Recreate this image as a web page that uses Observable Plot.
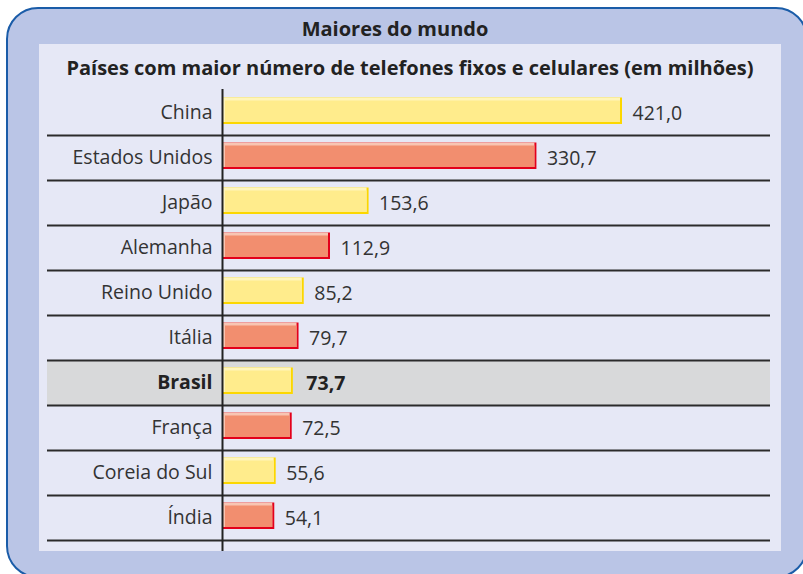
<!DOCTYPE html>
<html>
<head>
<meta charset="utf-8">
<script src="https://cdn.jsdelivr.net/npm/d3@7"></script>
<script src="https://cdn.jsdelivr.net/npm/@observablehq/plot@0.6"></script>
<style>
  html, body { margin: 0; padding: 0; background: #ffffff; width: 803px; height: 574px; overflow: hidden; }
  #outer {
    position: absolute; left: 6px; top: 7px; width: 798px; height: 567px;
    background: #bac5e6; border: 2px solid #1a5ca8; border-radius: 32px;
  }
  #title {
    position: absolute; left: 0; top: 15px; width: 790px; text-align: center;
    font: bold 20px "Open Sans", sans-serif; color: #222;
  }
  #panel {
    position: absolute; left: 39px; top: 44px; width: 742px; height: 507px;
    background: #e6e8f6;
  }
  #subtitle {
    position: absolute; left: 0; top: 10px; width: 742px; text-align: center;
    font: bold 20px "Open Sans", sans-serif; color: #222;
  }
  #chart { position: absolute; left: 0; top: 42px; }
</style>
</head>
<body>
<div id="outer"></div>
<div id="title">Maiores do mundo</div>
<div id="panel">
  <div id="subtitle">Países com maior número de telefones fixos e celulares (em milhões)</div>
  <div id="chart"></div>
</div>
<script>
const countries = ["China", "Estados Unidos", "Japão", "Alemanha", "Reino Unido", "Itália", "Brasil", "França", "Coreia do Sul", "Índia"];
const values = [421.0, 330.7, 153.6, 112.9, 85.2, 79.7, 73.7, 72.5, 55.6, 54.1];
const highlighted = "Brasil";

const mainColors = ["#ffec8c", "#f28e6f"];
const lightColors = ["#fff5bb", "#f8c5b3"];
const darkColors = ["#fcd700", "#e3001b"];

const data = countries.map((c, i) => ({country: c, value: values[i], tone: i % 2}));
const fmt = v => v.toFixed(1).replace(".", ",");
const font = '"Open Sans", sans-serif';

const band = 45.1;

const chart = Plot.plot({
  width: 742,
  height: 465,
  marginLeft: 184,
  marginRight: 159,
  marginTop: 3,
  marginBottom: 11,
  style: {background: "transparent", fontFamily: font, overflow: "visible"},
  x: {domain: [0, d3.max(values)], axis: null},
  y: {domain: countries, padding: 0, axis: null},
  marks: [
    Plot.ruleY([highlighted], {y: d => d, stroke: "#d8d9da", strokeWidth: band, insetLeft: -176, insetRight: -148}),
    Plot.ruleY(countries, {y: d => d, dy: band / 2, stroke: "#2b2b2b", strokeWidth: 2, insetLeft: -176, insetRight: -148}),
    Plot.barX(data, {x: "value", y: "country", fill: d => darkColors[d.tone], insetTop: 7.5, insetBottom: 11}),
    Plot.barX(data, {x: "value", y: "country", fill: d => lightColors[d.tone], insetTop: 7.5, insetBottom: 13, insetRight: 2}),
    Plot.barX(data, {x: "value", y: "country", fill: d => mainColors[d.tone], insetTop: 10.5, insetBottom: 13, insetRight: 2, insetLeft: 2}),
    Plot.ruleX([0], {stroke: "#222", strokeWidth: 2, dx: -1, insetBottom: -11}),
    Plot.text(data.filter(d => d.country !== highlighted), {x: 0, y: "country", text: "country", textAnchor: "end", dx: -11, fontSize: 19.5, fill: "#333"}),
    Plot.text(data.filter(d => d.country === highlighted), {x: 0, y: "country", text: "country", textAnchor: "end", dx: -11, fontSize: 19.5, fontWeight: "bold", fill: "#222"}),
    Plot.text(data.filter(d => d.country !== highlighted), {x: "value", y: "country", text: d => fmt(d.value), textAnchor: "start", dx: 10, dy: 1, fontSize: 19.5, fill: "#333"}),
    Plot.text(data.filter(d => d.country === highlighted), {x: "value", y: "country", text: d => fmt(d.value), textAnchor: "start", dx: 13, dy: 1, fontSize: 19.5, fontWeight: "bold", fill: "#222"})
  ]
});
document.getElementById("chart").appendChild(chart);
</script>
</body>
</html>
